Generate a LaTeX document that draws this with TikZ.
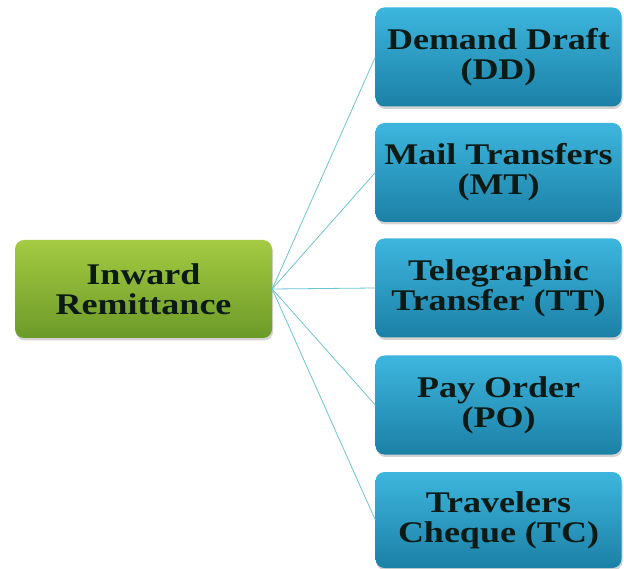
\documentclass[tikz,border=0pt]{standalone}
\usepackage{fontspec}
\newfontfamily\boxfont{Liberation Serif}[FakeStretch=1.2]
\usetikzlibrary{shadows}
\definecolor{gtop}{HTML}{A4CB42}
\definecolor{gbot}{HTML}{6C9A28}
\definecolor{btop}{HTML}{3DB6DE}
\definecolor{bbot}{HTML}{1C80A6}
\definecolor{linkc}{HTML}{6CC4D4}
\definecolor{txt}{HTML}{0B1A14}
\tikzset{
  basebox/.style={rectangle, rounded corners=9pt, align=center, inner sep=0pt,
    font=\boxfont\bfseries\fontsize{30}{30}\selectfont, text=txt,
    drop shadow={opacity=0.35, shadow xshift=1pt, shadow yshift=-2.5pt}},
  rootbox/.style={basebox, top color=gtop, bottom color=gbot,
    minimum width=257pt, minimum height=98pt},
  leafbox/.style={basebox, top color=btop, bottom color=bbot,
    minimum width=246pt, minimum height=99pt},
  link/.style={draw=linkc, line width=0.8pt}
}
\begin{document}
\begin{tikzpicture}[x=1pt,y=-1pt]
\useasboundingbox (0,0) rectangle (624,569);
\node[rootbox] (root) at (143.5,289) {Inward\\Remittance};
\node[leafbox] (dd) at (498.5,57) {Demand Draft\\(DD)};
\node[leafbox] (mt) at (498.5,172.5) {Mail Transfers\\(MT)};
\node[leafbox] (tt) at (498.5,288) {Telegraphic\\Transfer (TT)};
\node[leafbox] (po) at (498.5,405) {Pay Order\\(PO)};
\node[leafbox, minimum height=96pt] (tc) at (498.5,520) {Travelers\\Cheque (TC)};
\foreach \n in {dd,mt,tt,po,tc}
  \draw[link] (root.east) -- (\n.west);
\end{tikzpicture}
\end{document}
